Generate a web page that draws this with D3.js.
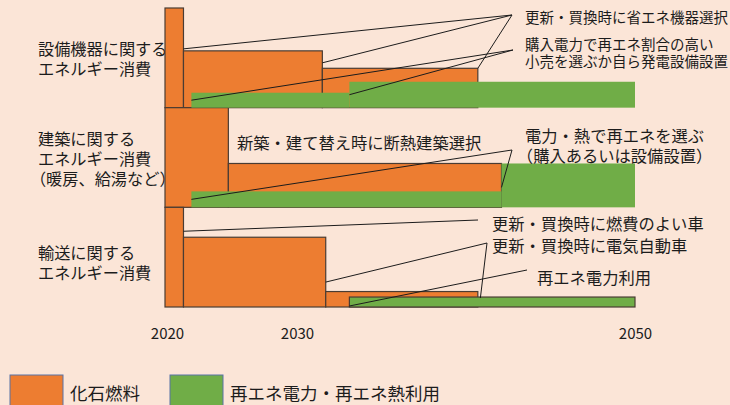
<!DOCTYPE html>
<html lang="ja">
<head>
<meta charset="utf-8">
<script src="https://cdn.jsdelivr.net/npm/d3@7"></script>
<style>
  html, body { margin: 0; padding: 0; background: #FBE5D7; }
  svg { display: block; font-family: "Noto Sans CJK JP", "Noto Sans", sans-serif; }
</style>
</head>
<body>
<svg id="chart" width="730" height="405"></svg>
<script>
// ---- data -------------------------------------------------------------
// Energy-use sectors, top to bottom
const sectionKeys = ["equipment", "building", "transport"];
const sectionLabels = [
  ["設備機器に関する", "エネルギー消費"],
  ["建築に関する", "エネルギー消費", "（暖房、給湯など）"],
  ["輸送に関する", "エネルギー消費"]
];

// Years shown under the time axis
const yearTicks = [2020, 2030, 2050];

// Fossil-fuel use: [sector, from year, to year, share of 2020 level (%)]
const fossilBars = [
  ["equipment", 2020,   2021.4, 100],
  ["equipment", 2021.4, 2031.5, 57],
  ["equipment", 2031.5, 2040.7, 39.5],
  ["building",  2020,   2024.8, 100],
  ["building",  2024.8, 2042.1, 44],
  ["transport", 2020,   2021.4, 100],
  ["transport", 2021.4, 2031.7, 70],
  ["transport", 2031.7, 2040.7, 15.5]
];

// Renewable power / heat use: [sector, from year, to year, share (%)]
const renewableBars = [
  ["equipment", 2022,   2033.1, 15],
  ["equipment", 2033.1, 2050,   26],
  ["building",  2022,   2042.1, 16],
  ["building",  2042.1, 2050,   44],
  ["transport", 2033.1, 2050,   10]
];

// Measures written beside the bars
const noteIds = ["saveEquip", "greenPower", "newBuild", "greenHeat", "fuelCar", "ev", "rePower"];
const noteLines = [
  ["更新・買換時に省エネ機器選択"],
  ["購入電力で再エネ割合の高い", "小売を選ぶか自ら発電設備設置"],
  ["新築・建て替え時に断熱建築選択"],
  ["電力・熱で再エネを選ぶ", "（購入あるいは設備設置）"],
  ["更新・買換時に燃費のよい車"],
  ["更新・買換時に電気自動車"],
  ["再エネ電力利用"]
];

// Leader lines: [note, sector, year, share (%)] of the point they mark
const leaders = [
  ["saveEquip",  "equipment", 2021.4, 59],
  ["saveEquip",  "equipment", 2031.5, 45],
  ["saveEquip",  "equipment", 2040.7, 39.5],
  ["greenPower", "equipment", 2022,   7.5],
  ["greenPower", "equipment", 2033.1, 13],
  ["greenHeat",  "building",  2022,   8],
  ["greenHeat",  "building",  2042.1, 20],
  ["fuelCar",    "transport", 2021.4, 76],
  ["ev",         "transport", 2031.7, 25],
  ["ev",         "transport", 2040.85, 9],
  ["rePower",    "transport", 2033.1, 1]
];

const legendLabels = ["化石燃料", "再エネ電力・再エネ熱利用"];

// ---- layout & style ----------------------------------------------------
const COLORS = { fossil: "#ED7D31", renew: "#70AD47", edge: "#4a3c33", ink: "#1c1c1c" };

const noteLayout = {
  saveEquip:  { hook: [512, 15],  x: 525, y: 16,  size: 14.5, lh: 17 },
  greenPower: { hook: [513, 50],  x: 525, y: 43,  size: 14.5, lh: 17 },
  newBuild:   { hook: null,       x: 237, y: 142, size: 16.3, lh: 20 },
  greenHeat:  { hook: [512, 150], x: 525, y: 135, size: 16.3, lh: 20 },
  fuelCar:    { hook: [478, 220], x: 492, y: 223, size: 16.3, lh: 20 },
  ev:         { hook: [487, 243], x: 492, y: 245, size: 16.3, lh: 20 },
  rePower:    { hook: [527, 270], x: 537, y: 277, size: 16.3, lh: 20 }
};
const sectionLabelY = [48, 138, 252];

// full-width opening brackets carry blank space on their left; pull them back
const bracketShift = s => s.startsWith("（") ? "-0.5em" : null;

// ---- scales --------------------------------------------------------------
const svg = d3.select("#chart");

// Time axis is schematic: 2020–2030 and 2030–2050 have their own spacing
const x = d3.scaleLinear().domain([2020, 2030, 2050]).range([165, 297, 635]);
const band = d3.scaleBand().domain(sectionKeys).range([8, 307]).paddingInner(0);
const share = d3.scaleLinear().domain([0, 100]).range([band.bandwidth(), 0]);
const yOf = (sec, s) => band(sec) + share(s);
const yBase = sec => band(sec) + band.bandwidth();

// ---- sector labels (behind the bars) --------------------------------------
sectionLabels.forEach((lines, i) => {
  svg.append("text")
    .attr("font-size", 16.2)
    .attr("fill", COLORS.ink)
    .selectAll("tspan")
    .data(lines)
    .join("tspan")
      .attr("x", 38)
      .attr("dx", bracketShift)
      .attr("y", (d, j) => sectionLabelY[i] + j * 20)
      .attr("dominant-baseline", "central")
      .text(d => d);
});

// ---- bars ------------------------------------------------------------
const bars = svg.append("g");

bars.selectAll("rect.fossil")
  .data(fossilBars)
  .join("rect")
    .attr("class", "fossil")
    .attr("x", d => x(d[1]))
    .attr("width", d => x(d[2]) - x(d[1]))
    .attr("y", d => yOf(d[0], d[3]))
    .attr("height", d => yBase(d[0]) - yOf(d[0], d[3]))
    .attr("fill", COLORS.fossil)
    .attr("stroke", COLORS.edge)
    .attr("stroke-width", 1.2);

bars.selectAll("rect.renew")
  .data(renewableBars)
  .join("rect")
    .attr("class", "renew")
    .attr("x", d => x(d[1]))
    .attr("width", d => x(d[2]) - x(d[1]))
    .attr("y", d => yOf(d[0], d[3]))
    .attr("height", d => yBase(d[0]) - yOf(d[0], d[3]))
    .attr("fill", COLORS.renew)
    .attr("stroke", d => d[0] === "transport" ? COLORS.edge : "none")
    .attr("stroke-width", 1.2);

// ---- leader lines -------------------------------------------------------
svg.append("g")
  .selectAll("line")
  .data(leaders)
  .join("line")
    .attr("x1", d => x(d[2]))
    .attr("y1", d => yOf(d[1], d[3]))
    .attr("x2", d => noteLayout[d[0]].hook[0])
    .attr("y2", d => noteLayout[d[0]].hook[1])
    .attr("stroke", COLORS.ink)
    .attr("stroke-width", 1);

// ---- notes -------------------------------------------------------------
noteIds.forEach((id, i) => {
  const L = noteLayout[id];
  svg.append("text")
    .attr("font-size", L.size)
    .attr("fill", COLORS.ink)
    .selectAll("tspan")
    .data(noteLines[i])
    .join("tspan")
      .attr("x", L.x)
      .attr("dx", bracketShift)
      .attr("y", (d, j) => L.y + j * L.lh)
      .attr("dominant-baseline", "central")
      .text(d => d);
});

// ---- year axis ------------------------------------------------------------
const axis = svg.append("g")
  .attr("transform", `translate(0,${yBase("transport")})`)
  .call(d3.axisBottom(x).tickValues(yearTicks).tickFormat(d3.format("d")).tickSize(0));
axis.select(".domain").remove();
axis.selectAll("text")
  .attr("y", 25)
  .attr("dx", d => d === 2020 ? 2 : 0)
  .attr("dy", null)
  .attr("dominant-baseline", "central")
  .attr("font-family", "\"Noto Sans CJK JP\", sans-serif")
  .attr("font-size", 15)
  .attr("fill", COLORS.ink);

// ---- legend --------------------------------------------------------------
const legend = svg.append("g")
  .selectAll("g")
  .data(legendLabels)
  .join("g")
    .attr("transform", (d, i) => `translate(${10 + i * 160},375)`);
legend.append("rect")
  .attr("width", 53)
  .attr("height", 34)
  .attr("fill", (d, i) => i === 0 ? COLORS.fossil : COLORS.renew)
  .attr("stroke", "#5873a6")
  .attr("stroke-width", 1);
legend.append("text")
  .attr("x", 60)
  .attr("y", 17)
  .attr("dominant-baseline", "central")
  .attr("font-size", 17.5)
  .attr("fill", COLORS.ink)
  .text(d => d);
</script>
</body>
</html>
